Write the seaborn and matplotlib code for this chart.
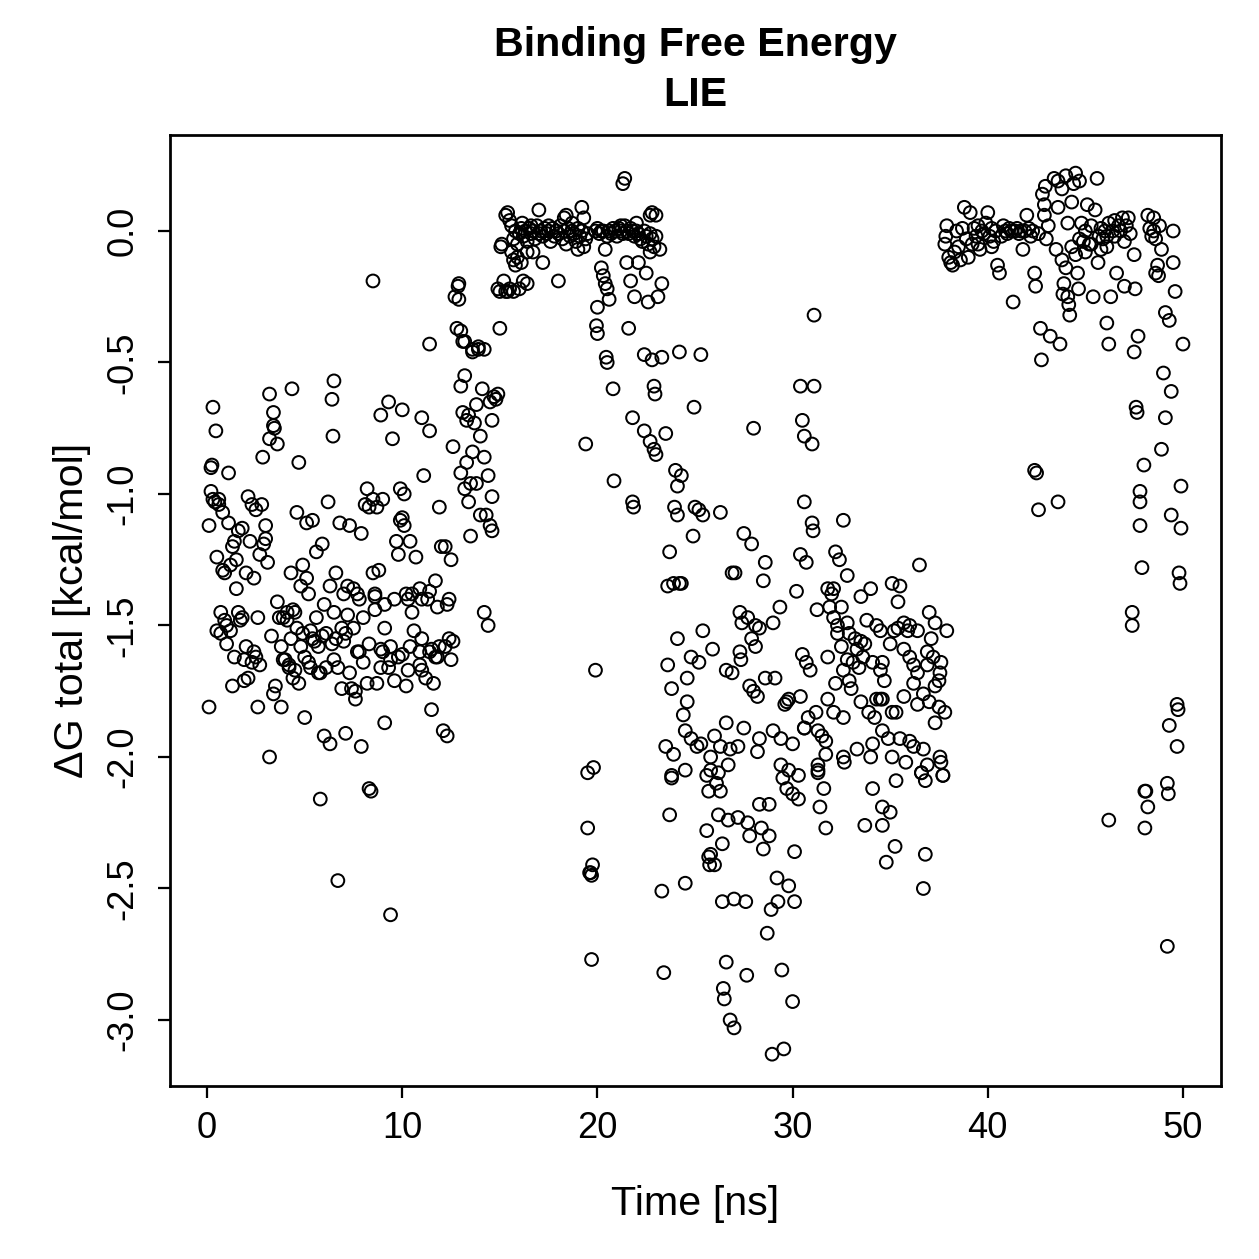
import numpy as np
import pandas as pd
import matplotlib
matplotlib.use("Agg")
import matplotlib.pyplot as plt
import seaborn as sns

# ---- data (time [ns], dG total [kcal/mol]) ----
early_cloud = [
    (0.1, -1.81), (0.1, -1.12), (0.2, -0.90), (0.2, -0.99), (0.25, -0.89), (0.3, -1.02), (0.3, -0.67),
    (0.4, -1.03), (0.45, -0.76), (0.5, -1.24), (0.5, -1.52), (0.6, -1.02), (0.6, -1.04), (0.7, -1.53),
    (0.7, -1.45), (0.8, -1.29), (0.8, -1.07), (0.9, -1.30), (1.0, -1.50), (1.0, -1.57), (1.1, -0.92),
    (1.1, -1.11), (1.2, -1.27), (1.2, -1.52), (1.3, -1.73), (1.3, -1.20), (1.4, -1.18), (1.5, -1.36),
    (1.5, -1.25), (1.6, -1.14), (1.6, -1.45), (1.7, -1.48), (1.8, -1.13), (1.8, -1.47), (1.9, -1.71),
    (1.9, -1.63), (2.0, -1.58), (2.1, -1.70), (2.1, -1.01), (2.2, -1.18), (2.3, -1.04), (2.3, -1.64),
    (2.4, -1.60), (2.4, -1.32), (2.5, -1.06), (2.5, -1.62), (2.6, -1.81), (2.6, -1.47), (2.7, -1.23),
    (2.7, -1.65), (2.8, -1.04), (2.85, -0.86), (2.9, -1.19), (3.0, -1.17), (3.0, -1.12), (3.1, -1.26),
    (3.2, -0.79), (3.2, -0.62), (3.2, -2.00), (3.3, -1.54), (3.4, -0.74), (3.4, -0.69), (3.4, -1.76),
    (3.5, -1.73), (3.45, -0.75), (3.6, -0.81), (3.7, -1.47), (3.8, -1.58), (3.8, -1.81), (3.9, -1.47),
    (4.0, -1.63), (4.1, -1.48), (4.1, -1.45), (4.2, -1.65), (4.3, -1.55), (4.3, -1.30), (4.35, -0.60),
    (4.4, -1.44), (4.5, -1.45), (4.5, -1.67), (4.6, -1.07), (4.6, -1.51), (4.7, -1.72), (4.7, -0.88),
    (4.8, -1.35), (4.9, -1.27), (5.0, -1.62), (5.0, -1.85), (5.1, -1.11), (5.1, -1.32), (5.2, -1.38),
    (5.3, -1.66), (5.3, -1.52), (5.4, -1.10), (5.5, -1.56), (5.6, -1.47), (5.6, -1.22), (5.7, -1.68),
    (5.8, -2.16), (5.9, -1.19), (5.9, -1.54), (6.0, -1.92), (6.1, -1.66), (6.2, -1.03), (6.3, -1.35),
    (6.3, -1.95), (6.4, -1.57), (6.4, -0.64), (6.5, -0.57), (6.45, -0.78), (6.6, -1.30), (6.7, -2.47),
    (6.7, -1.66), (6.8, -1.11), (6.9, -1.51), (6.9, -1.74), (7.0, -1.56), (7.0, -1.38), (7.1, -1.91),
    (7.2, -1.35), (7.2, -1.46), (7.3, -1.12), (7.4, -1.74), (7.5, -1.51), (7.6, -1.75), (7.6, -1.78),
    (7.7, -1.38), (7.8, -1.60), (7.9, -1.96), (7.9, -1.15), (8.0, -1.47), (8.1, -1.04), (8.2, -1.72),
    (8.2, -0.98), (8.3, -2.12), (8.4, -2.13), (8.5, -0.19), (8.5, -1.02), (8.5, -1.30), (8.6, -1.44),
    (8.6, -1.39), (8.7, -1.05), (8.8, -1.29), (8.9, -0.70), (8.9, -1.66), (9.0, -1.60), (9.1, -1.87),
    (9.1, -1.51), (9.3, -0.65), (9.4, -2.60), (9.4, -1.58), (9.5, -0.79), (9.6, -1.40), (9.6, -1.71),
    (9.7, -1.18), (9.8, -1.23), (10.0, -0.68), (9.9, -0.98), (10.0, -1.09), (10.0, -1.61), (10.1, -1.00),
    (10.2, -1.38), (10.3, -1.40), (10.3, -1.67), (10.4, -1.18), (10.5, -1.45), (10.6, -1.52), (10.7, -1.24),
    (11.0, -0.71), (10.9, -1.60), (11.0, -1.40), (11.0, -1.55), (11.1, -0.93), (11.2, -1.70), (11.4, -0.76),
    (11.4, -0.43), (11.4, -1.37), (11.5, -1.82), (11.5, -1.59), (11.6, -1.72), (11.7, -1.33), (11.8, -1.62),
    (11.9, -1.05), (12.0, -1.20), (12.1, -1.90), (12.2, -1.58), (12.3, -1.42), (12.3, -1.92), (12.4, -1.55),
    (12.5, -1.25), (12.5, -1.63), (12.2, -1.20), (12.4, -1.40), (12.6, -1.56),
    (4.9, -1.53), (5.4, -1.55), (5.7, -1.58), (6.1, -1.53), (6.6, -1.55), (7.1, -1.53), (7.7, -1.60),
    (8.3, -1.57), (8.9, -1.59), (9.4, -1.63), (9.8, -1.62), (10.4, -1.58), (10.9, -1.65), (11.4, -1.60),
    (11.9, -1.58), (3.9, -1.63), (4.2, -1.66), (4.4, -1.70), (5.2, -1.64), (5.8, -1.68), (6.5, -1.63),
    (7.3, -1.68), (8.0, -1.64), (8.7, -1.72), (9.3, -1.66), (10.2, -1.73), (11.0, -1.67), (11.7, -1.62),
    (7.5, -1.36), (7.8, -1.40), (8.6, -1.38), (9.1, -1.42), (10.5, -1.38), (10.9, -1.36), (11.3, -1.40),
    (11.8, -1.43), (6.0, -1.42), (6.5, -1.45), (2.0, -1.30), (1.4, -1.62), (0.9, -1.48), (3.6, -1.41),
    (4.8, -1.58), (9.9, -1.10), (10.1, -1.12), (9.0, -1.02), (8.3, -1.05),
]

rise = [
    (12.6, -0.82), (12.7, -0.25), (12.8, -0.37), (12.86, -0.21), (12.9, -0.20), (12.9, -0.26), (13.0, -0.59),
    (13.0, -0.92), (13.1, -0.42), (13.1, -0.69), (13.2, -0.55), (13.2, -0.98), (13.3, -0.72), (13.3, -0.88),
    (13.4, -0.70), (13.4, -1.03), (13.5, -1.16), (13.5, -0.96), (13.6, -0.84), (13.6, -0.46), (13.7, -0.73),
    (13.8, -0.66), (13.8, -0.96), (13.9, -0.45), (14.0, -0.78), (14.0, -1.08), (14.1, -0.60), (14.2, -1.45),
    (14.2, -0.86), (14.2, -0.45), (14.3, -1.08), (14.4, -1.50), (14.4, -0.93), (14.5, -0.65), (14.5, -1.12),
    (14.6, -1.01), (14.6, -1.14), (14.6, -0.72), (14.7, -0.63), (14.8, -0.64), (14.9, -0.62), (14.9, -0.22),
    (15.0, -0.37), (15.0, -0.23), (13.0, -0.38), (13.2, -0.42), (13.6, -0.45), (13.9, -0.44),
]

plateau_1 = [
    (15.1, -0.05), (15.3, 0.06), (15.4, 0.07), (15.5, 0.04), (15.6, 0.02), (15.7, -0.03), (15.8, 0.00),
    (15.9, -0.05), (16.0, -0.01), (16.1, 0.01), (16.2, -0.02), (16.3, 0.00), (16.4, -0.04), (16.5, 0.01),
    (16.6, -0.01), (16.7, 0.00), (16.8, -0.03), (16.9, 0.02), (17.0, -0.01), (17.1, 0.00), (17.2, -0.02),
    (17.3, 0.01), (17.4, -0.01), (17.5, 0.00), (17.6, -0.04), (17.7, 0.01), (17.8, -0.02), (17.9, 0.00),
    (18.0, -0.01), (18.1, 0.02), (18.2, -0.03), (18.3, 0.00), (18.4, -0.05), (18.5, 0.01), (18.6, -0.02),
    (18.7, 0.00), (18.8, -0.01), (18.9, -0.04), (19.0, 0.01), (19.1, -0.02), (19.2, 0.00), (19.3, -0.06),
    (19.4, -0.03), (19.5, -0.01), (19.9, 0.00), (20.0, 0.01), (20.1, -0.01), (20.2, 0.00), (20.3, 0.00),
    (20.5, -0.02), (20.6, 0.00), (20.7, -0.01), (20.8, 0.01), (20.9, 0.00), (21.0, -0.02), (21.1, 0.01),
    (21.2, 0.00), (21.3, -0.01), (21.4, 0.02), (21.5, 0.00), (21.6, -0.01), (21.7, 0.01), (21.8, 0.00),
    (21.9, -0.02), (22.0, 0.00), (22.1, -0.01), (22.2, -0.03), (22.3, -0.04), (22.4, 0.00), (22.5, -0.02),
    (22.6, -0.05), (22.7, -0.01), (22.8, -0.03), (22.9, -0.06), (23.0, -0.02), (16.15, 0.03), (16.6, 0.02),
    (17.0, 0.08), (17.5, 0.02), (18.3, 0.05), (18.4, 0.06), (18.7, 0.03), (19.2, 0.09), (19.3, 0.05),
    (21.3, 0.18), (21.4, 0.20), (21.2, 0.02), (22.0, 0.03), (22.7, 0.06), (23.0, 0.06), (22.8, 0.07),
    (15.6, -0.08), (15.7, -0.11), (15.8, -0.13), (15.9, -0.10), (16.0, -0.22), (15.3, -0.23), (15.5, -0.22),
    (15.7, -0.23), (16.1, -0.12), (16.2, -0.19), (16.4, -0.20), (16.4, -0.08), (16.7, -0.08), (17.2, -0.12),
    (18.0, -0.19), (19.0, -0.07), (20.4, -0.07), (15.2, -0.19), (15.4, -0.23), (15.05, -0.06),
]

descent = [
    (19.4, -0.81), (20.0, -0.29), (19.95, -0.36), (20.0, -0.39), (20.2, -0.14), (20.3, -0.17), (20.4, -0.20),
    (20.5, -0.22), (20.6, -0.26), (20.45, -0.48), (20.5, -0.50), (20.8, -0.60), (20.85, -0.95), (21.5, -0.12),
    (21.6, -0.37), (21.8, -1.03), (21.85, -1.05), (22.1, -0.12), (22.5, -0.16), (21.7, -0.19), (21.9, -0.25),
    (22.6, -0.27), (23.1, -0.25), (23.3, -0.20), (23.2, -0.07), (22.7, -0.08), (21.8, -0.71), (22.4, -0.47),
    (22.8, -0.49), (23.3, -0.48), (22.9, -0.59), (22.95, -0.62), (22.4, -0.76), (22.7, -0.80), (22.9, -0.83),
    (23.0, -0.85), (23.5, -0.77), (24.2, -0.46), (25.3, -0.47), (24.95, -0.67), (23.9, -1.34), (24.0, -0.91),
    (24.3, -0.93), (24.1, -0.97), (23.95, -1.05), (24.1, -1.08), (25.0, -1.05), (25.2, -1.06), (25.4, -1.08),
    (24.9, -1.16), (23.7, -1.22), (23.6, -1.35), (24.3, -1.34), (19.9, -1.67), (19.5, -2.06), (19.8, -2.04),
    (19.5, -2.27), (19.6, -2.44), (19.7, -2.45), (19.75, -2.41), (19.7, -2.77), (19.65, -2.44),
]

mid_cloud = [
    (23.8, -2.08), (23.7, -2.22), (23.3, -2.51), (24.5, -2.48), (23.4, -2.82), (24.1, -1.55), (25.4, -1.52),
    (23.6, -1.65), (24.8, -1.62), (25.2, -1.64), (24.6, -1.70), (23.8, -1.74), (24.6, -1.79), (24.4, -1.84),
    (23.5, -1.96), (23.9, -1.99), (24.5, -1.90), (24.8, -1.93), (25.1, -1.96), (24.5, -2.05), (23.8, -2.07),
    (25.6, -2.07), (25.7, -2.13), (25.6, -2.28), (25.7, -2.38), (25.75, -2.41), (30.6, -1.03), (26.3, -1.07),
    (31.0, -1.11), (31.05, -1.14), (32.6, -1.10), (27.5, -1.15), (27.9, -1.19), (28.6, -1.26), (28.5, -1.33),
    (27.05, -1.30), (30.4, -1.23), (30.7, -1.26), (32.2, -1.22), (32.4, -1.25), (32.8, -1.31), (36.5, -1.27),
    (30.2, -1.37), (31.8, -1.36), (32.1, -1.36), (32.0, -1.38), (33.5, -1.39), (34.0, -1.36), (35.1, -1.34),
    (35.5, -1.35), (35.4, -1.41), (31.9, -1.43), (32.5, -1.43), (31.25, -1.44), (29.35, -1.43), (29.0, -1.49),
    (37.0, -1.45), (37.3, -1.49), (37.9, -1.52), (37.1, -1.55), (27.3, -1.45), (27.7, -1.47), (28.1, -1.50),
    (28.3, -1.51), (27.9, -1.55), (28.1, -1.58), (25.9, -1.59), (27.3, -1.60), (27.35, -1.63), (26.6, -1.67),
    (26.9, -1.68), (28.6, -1.70), (29.1, -1.70), (27.8, -1.73), (28.0, -1.75), (28.2, -1.77), (29.8, -1.78),
    (29.7, -1.79), (30.5, -1.61), (30.9, -1.67), (30.7, -1.64), (31.8, -1.62), (32.2, -1.72), (31.8, -1.78),
    (32.1, -1.83), (30.8, -1.85), (30.6, -1.89), (31.3, -1.90), (31.5, -1.92), (31.7, -1.94), (31.7, -1.99),
    (31.3, -2.03), (32.6, -2.00), (32.65, -2.02), (29.0, -1.90), (29.4, -1.93), (30.0, -1.95), (28.2, -1.98),
    (27.5, -1.89), (26.6, -1.87), (26.0, -1.92), (26.3, -1.96), (26.8, -1.97), (27.2, -1.96), (26.7, -2.03),
    (25.8, -2.00), (26.2, -2.06), (29.4, -2.03), (29.8, -2.05), (30.3, -2.07), (31.3, -2.05), (33.8, -1.48),
    (34.3, -1.50), (34.5, -1.52), (35.0, -1.57), (35.7, -1.49), (36.0, -1.50), (36.4, -1.52), (35.7, -1.59),
    (36.0, -1.62), (36.2, -1.65), (36.4, -1.68), (36.9, -1.60), (37.2, -1.62), (37.6, -1.64), (37.55, -1.68),
    (37.5, -1.71), (37.3, -1.73), (37.0, -1.79), (37.5, -1.81), (37.8, -1.83), (37.3, -1.87), (36.4, -1.80),
    (36.2, -1.72), (36.7, -1.76), (35.7, -1.77), (35.1, -1.83), (34.5, -1.78), (33.5, -1.79), (33.9, -1.83),
    (34.2, -1.85), (32.9, -1.71), (33.0, -1.74), (32.6, -1.67), (33.1, -1.64), (33.6, -1.62), (34.1, -1.64),
    (34.5, -1.67), (34.7, -1.71), (34.6, -1.64), (32.3, -1.53), (32.5, -1.58), (32.8, -1.63), (32.9, -1.53),
    (33.2, -1.55), (33.5, -1.56), (33.3, -1.59), (33.7, -1.57), (32.1, -1.47), (32.3, -1.50), (32.8, -1.49),
    (35.2, -1.52), (35.4, -1.51), (35.9, -1.52), (35.3, -1.83), (34.3, -1.78), (34.6, -1.78), (34.0, -2.00),
    (34.1, -1.95), (34.6, -1.90), (34.9, -1.93), (35.1, -2.00), (35.8, -2.02), (36.0, -1.94), (36.7, -1.97),
    (36.9, -2.03), (37.55, -2.00), (37.6, -2.02), (37.7, -2.07), (36.6, -2.06), (25.8, -2.05), (26.1, -2.10),
    (26.3, -2.13), (29.5, -2.08), (29.7, -2.12), (30.0, -2.14), (30.3, -2.16), (31.3, -2.06), (31.6, -2.12),
    (31.4, -2.19), (31.7, -2.27), (28.3, -2.18), (28.8, -2.18), (26.2, -2.22), (26.7, -2.24), (27.2, -2.23),
    (27.7, -2.25), (28.4, -2.27), (28.8, -2.30), (27.8, -2.30), (26.4, -2.33), (28.5, -2.35), (30.1, -2.36),
    (25.8, -2.37), (26.0, -2.41), (34.1, -2.12), (35.3, -2.09), (36.6, -2.06), (36.8, -2.09), (37.7, -2.07),
    (34.6, -2.19), (35.0, -2.21), (33.7, -2.26), (34.6, -2.26), (35.25, -2.34), (34.8, -2.40), (36.8, -2.37),
    (36.7, -2.50), (29.2, -2.46), (29.8, -2.49), (26.4, -2.55), (27.0, -2.54), (27.6, -2.55), (29.25, -2.55),
    (30.1, -2.55), (28.9, -2.58), (28.7, -2.67), (26.6, -2.78), (27.65, -2.83), (29.45, -2.81), (26.45, -2.88),
    (26.5, -2.92), (30.0, -2.93), (26.8, -3.00), (27.0, -3.03), (28.95, -3.13), (29.55, -3.11), (31.1, -0.32),
    (30.4, -0.59), (31.1, -0.59), (28.0, -0.75), (30.5, -0.72), (30.6, -0.78), (31.0, -0.81), (24.2, -1.34),
    (25.3, -1.95), (26.9, -1.30), (33.4, -1.66), (36.9, -1.65), (35.5, -1.93), (36.2, -1.96), (31.2, -1.83),
    (32.6, -1.85), (33.3, -1.97), (30.4, -1.77), (30.6, -1.89), (29.6, -1.80), (28.3, -1.93), (27.4, -1.49),
]

plateau_2 = [
    (37.8, -0.05), (37.9, 0.02), (37.85, -0.02), (38.0, -0.10), (38.1, -0.12), (38.2, -0.13), (38.3, -0.08),
    (38.4, 0.00), (38.5, -0.06), (38.6, -0.11), (38.7, 0.01), (38.8, 0.09), (38.9, -0.03), (39.0, -0.10),
    (39.1, 0.07), (39.2, -0.05), (39.3, 0.01), (39.4, -0.02), (39.5, 0.02), (39.6, -0.07), (39.7, 0.00),
    (39.8, -0.01), (39.9, 0.03), (40.0, 0.07), (40.1, -0.02), (40.2, 0.01), (40.3, -0.04), (40.4, 0.00),
    (40.5, -0.13), (40.6, -0.16), (40.7, -0.02), (40.8, 0.02), (40.9, 0.00), (41.0, -0.01), (41.1, 0.01),
    (41.2, 0.00), (41.3, -0.27), (41.4, 0.00), (41.5, 0.01), (41.6, -0.01), (41.7, 0.00), (41.8, -0.07),
    (41.9, 0.00), (42.0, 0.06), (42.1, 0.01), (42.2, -0.02), (42.3, 0.00), (42.4, -0.16), (42.45, -0.21),
    (42.6, -0.01), (42.7, -0.37), (42.75, -0.49), (42.8, 0.14), (42.9, 0.10), (42.95, 0.17), (43.0, -0.03),
    (43.1, 0.02), (43.2, -0.40), (43.5, -0.07), (43.6, 0.09), (43.7, -0.43), (43.8, -0.11), (43.85, -0.24),
    (43.9, -0.20), (44.0, -0.14), (43.4, 0.20), (43.6, 0.19), (43.8, 0.16), (44.0, 0.21), (44.1, 0.03),
    (44.1, -0.25), (44.15, -0.28), (44.2, -0.32), (44.3, 0.11), (44.4, 0.18), (44.5, 0.22), (44.6, -0.16),
    (44.65, -0.22), (44.7, 0.19), (44.8, 0.03), (44.9, -0.04), (45.0, 0.00), (45.1, 0.10), (45.2, -0.05),
    (45.3, 0.02), (45.4, -0.25), (45.5, 0.08), (45.6, 0.20), (45.65, -0.12), (45.7, -0.02), (45.8, 0.01),
    (45.9, -0.03), (46.0, 0.00), (46.1, -0.06), (46.2, 0.03), (46.3, -0.25), (46.4, 0.00), (46.5, -0.02),
    (46.6, -0.16), (46.7, 0.02), (46.8, 0.00), (46.9, 0.05), (47.0, -0.21), (47.1, 0.02), (47.2, 0.05),
    (47.3, -0.01), (47.5, -0.09), (47.55, -0.22), (44.3, -0.06), (44.5, -0.09), (44.7, -0.03), (45.0, -0.08),
    (45.3, -0.05), (45.8, -0.07), (46.1, -0.02), (46.5, 0.04), (47.0, -0.04), (48.2, 0.06), (48.5, 0.05),
    (48.3, 0.01), (48.4, -0.02), (48.5, 0.00), (48.6, -0.03), (48.7, -0.13), (48.75, -0.17), (48.9, -0.07),
    (48.8, 0.02), (49.5, 0.00), (49.5, -0.12), (48.6, -0.16), (39.5, -0.05), (40.2, -0.06), (42.9, 0.06),
]

tail = [
    (46.1, -0.35), (46.2, -0.43), (47.5, -0.46), (47.7, -0.40), (49.6, -0.23), (49.1, -0.31), (49.3, -0.34),
    (50.0, -0.43), (49.0, -0.54), (49.4, -0.61), (47.6, -0.67), (47.65, -0.69), (49.1, -0.71), (48.9, -0.83),
    (48.0, -0.89), (42.4, -0.91), (42.5, -0.92), (47.8, -0.99), (47.8, -1.03), (49.9, -0.97), (42.6, -1.06),
    (43.6, -1.03), (47.8, -1.12), (49.4, -1.08), (49.9, -1.13), (47.9, -1.28), (49.8, -1.30), (49.85, -1.34),
    (47.4, -1.45), (47.4, -1.50), (49.7, -1.80), (49.75, -1.82), (49.3, -1.88), (49.7, -1.96), (48.05, -2.13),
    (48.1, -2.13), (49.2, -2.10), (49.25, -2.14), (48.2, -2.19), (48.05, -2.27), (46.2, -2.24), (49.2, -2.72),
]

segments = {
    "early": early_cloud, "rise": rise, "plateau_1": plateau_1, "descent": descent,
    "mid": mid_cloud, "plateau_2": plateau_2, "tail": tail,
}
frames = [pd.DataFrame(pts, columns=["time", "dG"]).assign(segment=name) for name, pts in segments.items()]
df = pd.concat(frames, ignore_index=True)

# ---- styling, mimic R base graphics ----
sns.set_theme(style="white")
plt.rcParams["font.family"] = ["Liberation Sans", "DejaVu Sans"]
plt.rcParams["axes.unicode_minus"] = False
plt.rcParams["text.color"] = "black"

fig = plt.figure(figsize=(1259 / 180, 1259 / 180), dpi=180)
ax = fig.add_axes([170 / 1259, 173 / 1259, 1051 / 1259, 951 / 1259])

sns.scatterplot(data=df, x="time", y="dG", ax=ax, marker="o", s=26,
                facecolor="none", edgecolor="black", linewidth=0.8, legend=False)

ax.set_xlim(-1.9, 51.95)
ax.set_ylim(-3.251, 0.365)

xt = [0, 10, 20, 30, 40, 50]
yt = [-3.0, -2.5, -2.0, -1.5, -1.0, -0.5, 0.0]
ax.set_xticks(xt)
ax.set_xticklabels([str(v) for v in xt])
ax.set_yticks(yt)
ax.set_yticklabels([f"{v:.1f}" for v in yt], rotation=90, va="center")

ax.tick_params(axis="both", direction="out", length=4.8, width=0.9, color="black",
               labelsize=14.5, labelcolor="black", bottom=True, left=True)
ax.tick_params(axis="x", pad=5)
ax.tick_params(axis="y", pad=7)

for sp in ax.spines.values():
    sp.set_visible(True)
    sp.set_color("black")
    sp.set_linewidth(1.1)

ax.set_xlabel("Time [ns]", fontsize=16.5, color="black")
ax.set_ylabel("ΔG total [kcal/mol]", fontsize=16.5, color="black")
ax.xaxis.set_label_coords(0.5, -0.104)
ax.yaxis.set_label_coords(-0.075, 0.5)

cx = (170 + 1221) / 2 / 1259
fig.text(cx, 1 - 45 / 1259, "Binding Free Energy", ha="center", va="center",
         fontsize=16.5, fontweight="bold", color="black")
fig.text(cx, 1 - 95 / 1259, "LIE", ha="center", va="center",
         fontsize=16.5, fontweight="bold", color="black")

fig.savefig("out.png", dpi=180, facecolor="white")
